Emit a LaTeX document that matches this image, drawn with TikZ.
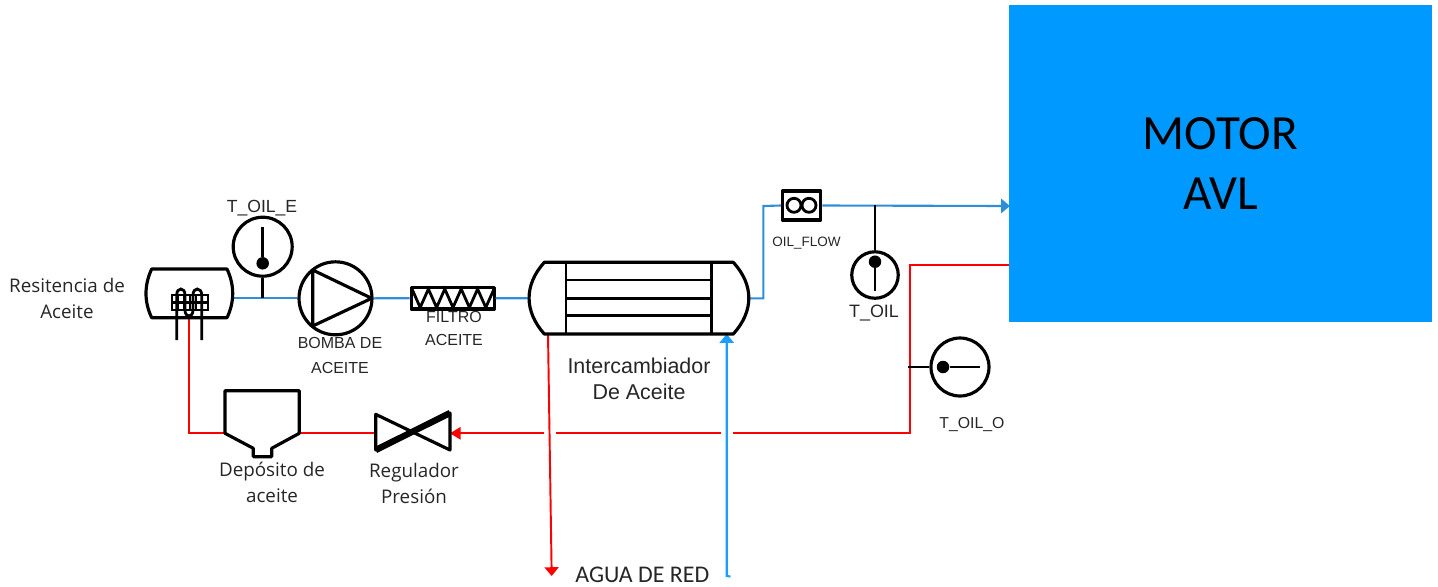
\documentclass[tikz,border=0pt]{standalone}
\usepackage{fontspec}
\setmainfont{Liberation Sans}
\newfontfamily\calfont{Carlito}
\newfontfamily\segfont{Open Sans}
\usetikzlibrary{arrows.meta}
\definecolor{oilblue}{HTML}{2E8FD8}
\definecolor{waterblue}{HTML}{1A9FFF}
\definecolor{motorblue}{HTML}{0099FF}
\tikzset{
  equip/.style={draw=black, line width=1.8pt, line join=round},
  stemline/.style={draw=black, line width=1.6pt},
  oilline/.style={draw=oilblue, line width=1.2pt},
  waterline/.style={draw=waterblue, line width=1.2pt},
  hotline/.style={draw=red, line width=1.1pt},
  gauge/.style={circle, equip, fill=white, inner sep=0pt},
  gaugedot/.style={circle, fill=black, inner sep=0pt, minimum size=0.25cm},
  lab/.style={inner sep=0pt, text=black!85, align=center},
}
\begin{document}
\begin{tikzpicture}[x=0.02cm,y=-0.02cm]
  \useasboundingbox (0,0) rectangle (1438,586);

  % Motor
  \node[fill=motorblue, inner sep=0pt, minimum width=8.46cm, minimum height=6.34cm, align=center,
    font=\calfont\fontsize{28}{34}\selectfont] (motor) at (1220.5,163.5) {MOTOR\\AVL};

  % Anchor points on the equipment
  \coordinate (vesselE) at (232.7,298);
  \coordinate (hxW) at (529,298.3);
  \coordinate (hxE) at (749,298.3);
  \coordinate (hxBL) at (548,334);
  \coordinate (hxBR) at (726.7,334);
  \coordinate (heaterB) at (189,315);
  \coordinate (tankW) at (225,433.3);
  \coordinate (tankE) at (299.3,433.3);
  \coordinate (valveW) at (375.7,433.3);
  \coordinate (valveE) at (450,433.3);
  \coordinate (motorIn) at (1010,206);
  \coordinate (motorOut) at (1009,264.7);
  \coordinate (retCorner) at (910,433.3);
  \coordinate (gapA) at (732.7,433.3);
  \coordinate (gapB) at (721,433.3);
  \coordinate (gapC) at (556,433.3);
  \coordinate (gapD) at (544.3,433.3);
  \coordinate (drain) at (551.7,576);
  \coordinate (supply) at (726.7,576);
  \coordinate (supplyEnd) at (730.5,576.5);

  % Pump, filter, flow meter and gauges
  \node[gauge, minimum size=1.46cm] (pump) at (335.5,298.3) {};
  \node[equip, fill=white, inner sep=0pt, minimum width=1.66cm, minimum height=0.43cm] (filter) at (452.6,298.2) {};
  \node[equip, fill=white, inner sep=0pt, minimum width=0.77cm, minimum height=0.58cm] (flow) at (801.6,205.5) {};
  \node[gauge, minimum size=1.18cm] (gaugeE) at (262.7,246.7) {};
  \node[gauge, minimum size=0.93cm] (gaugeT) at (875,275) {};
  \node[gauge, minimum size=1.16cm] (gaugeO) at (960,367) {};

  % Oil circuit
  \draw[oilline] (vesselE) -- (vesselE -| pump.west);
  \draw[oilline] (pump.east) -- (filter.west);
  \draw[oilline] (filter.east) -- (hxW);
  \draw[oilline] (hxE) -| (763.3,206) -- (flow.west);
  \draw[oilline, -{Triangle[length=5pt,width=8pt]}] (flow.east) -- (motorIn);
  \draw[hotline] (motorOut) -| (retCorner) -- (gapA);
  \draw[hotline] (gapB) -- (gapC);
  \draw[hotline, -{Triangle[length=6pt,width=7pt]}] (gapD) -- (valveE);
  \draw[hotline] (valveW) -- (tankE);
  \draw[hotline] (tankW) -| (heaterB);

  % Water circuit
  \draw[hotline, -{Triangle[length=5pt,width=8pt]}] (hxBL) -- (drain);
  \draw[waterline, -{Triangle[length=5pt,width=8pt]}] (supplyEnd) -- (supply) -- (hxBR);

  % Gauge stems
  \draw[stemline] (gaugeE.south) -- (262.7,298);
  \draw[stemline] (gaugeT.north) -- (875,205);
  \draw[stemline] (gaugeO.west) -- (908,367);

  % Gauge needles
  \node[gaugedot] (dotE) at (262.7,263.3) {};
  \draw[stemline] (dotE) -- (262.7,226.7);
  \node[gaugedot] (dotT) at (875,261.7) {};
  \draw[stemline] (dotT) -- (875,291);
  \node[gaugedot] (dotO) at (943,367) {};
  \draw[stemline] (dotO) -- (980,367);

  % Oil heater vessel
  \draw[equip] (151.7,269) -- (227,269) .. controls (234.6,285) and (234.6,302) .. (227,317.7)
    -- (151.7,317.7) .. controls (144.1,302) and (144.1,285) .. (151.7,269) -- cycle;
  \draw[black, line width=1.3pt] (172,295) rectangle (208,310);
  \foreach \x in {178,184,190,196,202} {
    \draw[black, line width=1.2pt] (\x,295) -- (\x,310);
  }
  \draw[black, line width=1.2pt] (172,302.5) -- (208,302.5);
  \draw[stemline] (176.7,340) -- (176.7,295) .. controls (176.7,287) and (185,287) .. (185,295)
    -- (185,310) .. controls (185,318) and (193,318) .. (193,310)
    -- (193,295) .. controls (193,287) and (201.7,287) .. (201.7,295) -- (201.7,340);

  % Pump triangle
  \draw[equip] (312.7,270) -- (371.7,298.3) -- (312.7,326) -- cycle;

  % Filter zigzag
  \draw[stemline] (412,289) \foreach \x in {0,1,2,3,4} {
    -- (420.2+16.4*\x,307.5) -- (428.4+16.4*\x,289) };

  % Flow meter rotors
  \foreach \x in {794,809} {
    \draw[stemline] (\x,205.3) circle (0.14cm);
  }

  % Heat exchanger
  \draw[equip] (544.3,262.3) -- (733.3,262.3) .. controls (754,285) and (754,311) .. (733.3,334)
    -- (544.3,334) .. controls (524,311) and (524,285) .. (544.3,262.3) -- cycle;
  \foreach \x in {566,711.7} {
    \draw[stemline] (\x,262.3) -- (\x,334);
  }
  \foreach \y in {280,298.3,315.7} {
    \draw[stemline] (566,\y) -- (711.7,\y);
  }

  % Oil tank
  \draw[equip] (225,390.7) -- (299.3,390.7) -- (299.3,433.3) -- (271.7,448.3) -- (271.7,456.7)
    -- (253.3,456.7) -- (253.3,448.3) -- (225,433.3) -- cycle;

  % Pressure regulator
  \draw[equip] (375.7,414.3) -- (450,450) -- (450,413) -- (375.7,450) -- cycle;
  \draw[black, line width=3.6pt] (375.7,450) -- (450,413);

  % Labels
  \node[lab, font=\fontsize{10}{12}\selectfont] (labE) at (262,208) {T\_OIL\_E};
  \node[lab, font=\fontsize{9.1}{14.7}\selectfont] (labPump) at (340,355.5) {BOMBA DE\\ACEITE};
  \node[lab, font=\fontsize{9.1}{13.6}\selectfont] (labFilter) at (454,328.5) {FILTRO\\ACEITE};
  \node[lab, font=\fontsize{7.7}{9}\selectfont] (labFlow) at (806.5,243) {OIL\_FLOW};
  \node[lab, font=\fontsize{10.2}{12}\selectfont] (labT) at (874,313) {T\_OIL};
  \node[lab, font=\fontsize{9}{11}\selectfont] (labO) at (972,425) {T\_OIL\_O};
  \node[lab, font=\fontsize{12.2}{14.7}\selectfont] (labHx) at (639,379) {Intercambiador\\De Aceite};
  \node[lab, font=\segfont\fontsize{10.7}{15}\selectfont] (labHeater) at (67,298.5) {Resitencia de\\Aceite};
  \node[lab, font=\segfont\fontsize{10.7}{14.7}\selectfont] (labTank) at (272,482) {Depósito de\\aceite};
  \node[lab, font=\segfont\fontsize{10.7}{14.4}\selectfont] (labValve) at (414,483.5) {Regulador\\Presión};
  \node[lab, anchor=west, font=\calfont\fontsize{13.6}{16}\selectfont] (labWater) at (575,574.5) {AGUA DE RED};
\end{tikzpicture}
\end{document}
